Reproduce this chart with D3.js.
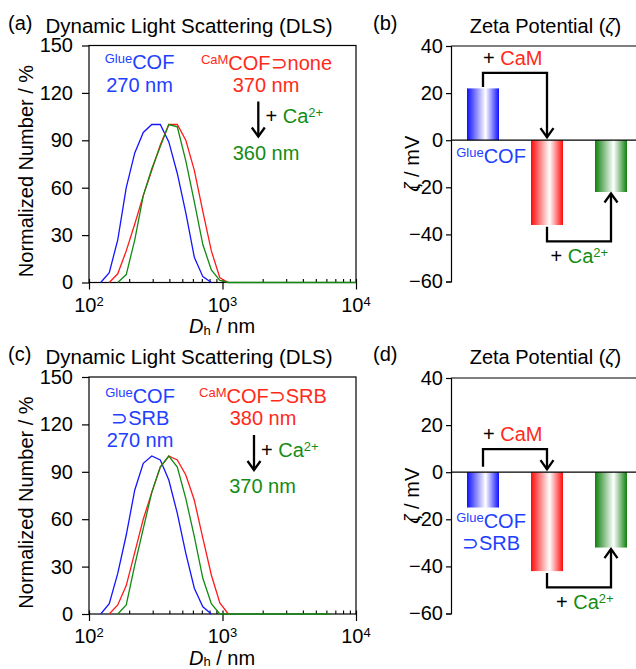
<!DOCTYPE html>
<html><head><meta charset="utf-8">
<script src="https://cdn.jsdelivr.net/npm/d3@7"></script>
<style>
body{margin:0;background:#fff}
svg text{font-family:"Liberation Sans",Arial,Helvetica,sans-serif}
</style>
</head><body>
<svg id="c" width="636" height="669"></svg>
<script>
// ---------------- DATA ----------------
const N = null;
// DLS size bins (nm)
const sizesNm = [122.4, 141.8, 164.2, 190.1, 220.2, 255.0, 295.3, 342.0, 396.1, 458.7, 531.2, 615.1, 712.4, 825.0, 955.4, 1106, 1281, 1484, 1718, 1990, 2305, 2669, 3091, 3580, 4145, 4801, 5560, 6439, 7456, 8635, 10000];
// panel (a)
const dlsGlueA  = [0, 6.2, 27, 60, 82, 95, 100, 100, 89, 69, 44, 16, 3.7, 0];
const dlsCaMA   = [N, 0, 5.5, 20, 37, 55, 71, 87, 100, 100, 90, 71, 45, 20, 3, 0];
const dlsCaMCaA = [N, N, 0, 5, 27, 55, 72, 86, 100, 98.5, 77, 51, 24, 8, 1.3, 0, 0, 0, 0, 0, 0, 0, 0, 0, 0, 0, 0, 0, 0, 0, 0];
// panel (c)
const dlsGlueC  = [0, 6.5, 25.7, 50, 78.5, 95.4, 100, 97.5, 84.8, 63.7, 38.4, 16.3, 4.6, 0];
const dlsCaMC   = [N, 0, 5.7, 18, 39, 60, 77, 93, 100, 97.5, 88, 72, 48, 24.7, 7, 0];
const dlsCaMCaC = [N, N, 0, 5.7, 31, 54, 77, 93, 100, 93, 73, 49, 22.6, 6.5, 0, 0, 0, 0, 0, 0, 0, 0, 0, 0, 0, 0, 0, 0];
const dlsYTicks = [0, 30, 60, 90, 120, 150];
const dlsXDecades = [100, 1000, 10000];
// zeta potential
const zetaCategories = ["GlueCOF", "CaMCOF", "CaMCOF+Ca"];
const zetaB = [22, -36, -22];
const zetaD = [-15, -42, -32];
const zetaYTicks = [40, 20, 0, -20, -40, -60];

// ---------------- STYLE ----------------
const cBlueLine = "#1414ff", cRedLine = "#ff1a1a", cGreenLine = "#128a12";
const cBlueTxt = "#1e40ff", cRedTxt = "#ff2a1a", cGreenTxt = "#148c14";
const barCols = ["#1010ff", "#ff0a0a", "#108010"];

const svg = d3.select("#c");
const defs = svg.append("defs");
barCols.forEach((c, i) => {
  const lg = defs.append("linearGradient").attr("id", "g" + i).attr("x1", "0%").attr("x2", "100%").attr("y1", "0%").attr("y2", "0%");
  lg.append("stop").attr("offset", "0%").attr("stop-color", c);
  lg.append("stop").attr("offset", "58%").attr("stop-color", "#ffffff");
  lg.append("stop").attr("offset", "100%").attr("stop-color", c);
});

function rich(x, y, anchor, parts, opts) {
  const t = svg.append("text").attr("x", x).attr("y", y).attr("text-anchor", anchor).attr("font-size", (opts && opts.size) || 20);
  if (opts && opts.rotate) t.attr("transform", `rotate(-90,${x},${y})`);
  let shift = 0;
  parts.forEach(p => {
    const want = p.sup ? -6 : p.sub ? 1.5 : 0;
    const ts = t.append("tspan").text(p.t);
    if (want - shift !== 0) ts.attr("dy", want - shift);
    shift = want;
    if (p.sup || p.sub) ts.attr("font-size", 13);
    if (p.c) ts.attr("fill", p.c);
    if (p.i) ts.attr("font-style", "italic");
  });
  return t;
}

function arrow(points, dir) {
  const line = d3.line();
  svg.append("path").attr("d", line(points)).attr("fill", "none").attr("stroke", "#000").attr("stroke-width", 2.3).attr("stroke-linejoin", "miter");
  const [tx, ty] = points[points.length - 1];
  const s = dir === "down" ? -1 : 1;
  svg.append("path").attr("d", line([[tx - 6.5, ty + s * 9], [tx, ty], [tx + 6.5, ty + s * 9]]))
    .attr("fill", "none").attr("stroke", "#000").attr("stroke-width", 2.3).attr("stroke-linejoin", "miter");
}

// ---------------- DLS PANELS ----------------
function dlsPanel(top, bottom, series) {
  const x = d3.scaleLog().domain([100, 10000]).range([89, 356]);
  const y = d3.scaleLinear().domain([0, 150]).range([bottom, top]);
  const g = svg.append("g");
  g.append("rect").attr("x", x(100)).attr("y", y(150)).attr("width", x(10000) - x(100)).attr("height", y(0) - y(150))
    .attr("fill", "none").attr("stroke", "#000").attr("stroke-width", 1.2);
  const ya = g.append("g").attr("transform", `translate(${x(100)},0)`)
    .call(d3.axisLeft(y).tickValues(dlsYTicks).tickSize(7).tickPadding(9).tickFormat(d3.format("d")));
  ya.select(".domain").remove();
  ya.selectAll("line").attr("stroke-width", 1.2);
  ya.selectAll("text").attr("font-size", 20).attr("font-family", null);
  const minor = [];
  [100, 1000].forEach(d => { for (let k = 2; k <= 9; k++) minor.push(d * k); });
  const xm = g.append("g").attr("transform", `translate(0,${bottom})`)
    .call(d3.axisBottom(x).tickValues(minor).tickSize(-3.5).tickFormat(""));
  xm.select(".domain").remove();
  xm.selectAll("line").attr("stroke-width", 1.1);
  const xM = g.append("g").attr("transform", `translate(0,${bottom})`)
    .call(d3.axisBottom(x).tickValues(dlsXDecades).tickSize(7).tickFormat(""));
  xM.select(".domain").remove();
  xM.selectAll("line").attr("stroke-width", 1.2).attr("y1", -3.5);
  dlsXDecades.forEach(d => rich(x(d), bottom + 29, "middle", [{t: "10"}, {t: String(Math.round(Math.log10(d))), sup: true}]));
  rich(222, bottom + 50.5, "middle", [{t: "D", i: true}, {t: "h", sub: true}, {t: " / nm"}]);
  rich(33, bottom - 111.5, "middle", [{t: "Normalized Number / %"}], {rotate: true});
  const line = d3.line().defined(d => d[1] != null).x(d => x(d[0])).y(d => y(d[1]));
  series.forEach(s => {
    g.append("path").datum(sizesNm.map((v, i) => [v, i < s.v.length ? s.v[i] : null]))
      .attr("d", line).attr("fill", "none").attr("stroke", s.c).attr("stroke-width", 1.3);
  });
}

dlsPanel(45.5, 282.5, [{v: dlsGlueA, c: cBlueLine}, {v: dlsCaMA, c: cRedLine}, {v: dlsCaMCaA, c: cGreenLine}]);
dlsPanel(377, 614, [{v: dlsGlueC, c: cBlueLine}, {v: dlsCaMC, c: cRedLine}, {v: dlsCaMCaC, c: cGreenLine}]);

// titles & panel labels
[[32.5, 29.5], [364, 360.5]].forEach(([tb, lb], k) => {
  rich(189, tb, "middle", [{t: "Dynamic Light Scattering (DLS)"}], {size: 20.5});
  rich(545.5, tb, "middle", [{t: "Zeta Potential ("}, {t: "ζ", i: true}, {t: ")"}]);
  rich(8, lb, "start", [{t: k === 0 ? "(a)" : "(c)"}]);
  rich(373, lb, "start", [{t: k === 0 ? "(b)" : "(d)"}]);
});

// annotations (a)
rich(139.5, 69.3, "middle", [{t: "Glue", sup: true, c: cBlueTxt}, {t: "COF", c: cBlueTxt}]);
rich(139.5, 91.7, "middle", [{t: "270 nm", c: cBlueTxt}]);
rich(266.5, 70, "middle", [{t: "CaM", sup: true, c: cRedTxt}, {t: "COF⊃none", c: cRedTxt}]);
rich(266, 92.3, "middle", [{t: "370 nm", c: cRedTxt}]);
arrow([[258.3, 101.5], [258.3, 136.5]], "down");
rich(265.5, 123.3, "start", [{t: "+ "}, {t: "Ca", c: cGreenTxt}, {t: "2+", sup: true, c: cGreenTxt}]);
rich(266, 160, "middle", [{t: "360 nm", c: cGreenTxt}]);
// annotations (c)
rich(140, 402.7, "middle", [{t: "Glue", sup: true, c: cBlueTxt}, {t: "COF", c: cBlueTxt}]);
rich(140.3, 425, "middle", [{t: "⊃SRB", c: cBlueTxt}]);
rich(140, 446.7, "middle", [{t: "270 nm", c: cBlueTxt}]);
rich(263, 402.7, "middle", [{t: "CaM", sup: true, c: cRedTxt}, {t: "COF⊃SRB", c: cRedTxt}]);
rich(263, 425, "middle", [{t: "380 nm", c: cRedTxt}]);
arrow([[254, 435], [254, 470]], "down");
rich(261, 457.3, "start", [{t: "+ "}, {t: "Ca", c: cGreenTxt}, {t: "2+", sup: true, c: cGreenTxt}]);
rich(262.5, 492.7, "middle", [{t: "370 nm", c: cGreenTxt}]);

// ---------------- ZETA PANELS ----------------
function zetaPanel(top, bottom, values, ann) {
  const y = d3.scaleLinear().domain([-60, 40]).range([bottom, top]);
  const x = d3.scaleBand().domain(zetaCategories).range([451, 643]).paddingInner(0.5).paddingOuter(0.25);
  const g = svg.append("g");
  g.selectAll("rect.bar").data(values).join("rect")
    .attr("x", (d, i) => x(zetaCategories[i])).attr("width", x.bandwidth())
    .attr("y", d => y(Math.max(0, d))).attr("height", d => Math.abs(y(d) - y(0)))
    .attr("fill", (d, i) => `url(#g${i})`);
  g.append("line").attr("x1", 451).attr("x2", 636).attr("y1", y(40)).attr("y2", y(40)).attr("stroke", "#000").attr("stroke-width", 1.2);
  g.append("line").attr("x1", 451).attr("x2", 636).attr("y1", y(0)).attr("y2", y(0)).attr("stroke", "#000").attr("stroke-width", 1.2);
  const ya = g.append("g").attr("transform", "translate(451,0)")
    .call(d3.axisLeft(y).tickValues(zetaYTicks).tickSize(5).tickPadding(3));
  ya.select(".domain").attr("stroke-width", 1.2);
  ya.selectAll("line").attr("stroke-width", 1.2);
  ya.selectAll("text").attr("font-size", 20).attr("font-family", null);
  rich(419, (top + bottom) / 2, "middle", [{t: "ζ", i: true}, {t: " / mV"}], {rotate: true});
  const cx = i => x(zetaCategories[i]) + x.bandwidth() / 2;
  // + CaM arrow
  const s0 = y(Math.max(0, values[0])) - ann.camStart;
  const lvl0 = s0 - ann.camRise;
  arrow([[cx(0), s0], [cx(0), lvl0], [cx(1), lvl0], [cx(1), y(0) - 3]], "down");
  rich(cx(0), lvl0 - 8, "start", [{t: "+ "}, {t: "CaM", c: cRedTxt}]);
  // + Ca2+ arrow
  const s1 = y(values[1]) + 1.8;
  const lvl1 = s1 + 14.5;
  arrow([[cx(1), s1], [cx(1), lvl1], [cx(2), lvl1], [cx(2), y(values[2]) + 1.5]], "up");
  rich(ann.caX, lvl1 + 21.5, "start", [{t: "+ "}, {t: "Ca", c: cGreenTxt}, {t: "2+", sup: true, c: cGreenTxt}]);
  // label
  ann.label.forEach((parts, k) => rich(491, ann.labelY + k * 21.7, "middle", parts));
}

zetaPanel(46, 281.5, zetaB, {camStart: 1.5, camRise: 14, caX: 550.5, labelY: 163.3,
  label: [[{t: "Glue", sup: true, c: cBlueTxt}, {t: "COF", c: cBlueTxt}]]});
zetaPanel(378, 613.5, zetaD, {camStart: 5.5, camRise: 17.5, caX: 556, labelY: 528.3,
  label: [[{t: "Glue", sup: true, c: cBlueTxt}, {t: "COF", c: cBlueTxt}], [{t: "⊃SRB", c: cBlueTxt}]]});
</script>
</body></html>
